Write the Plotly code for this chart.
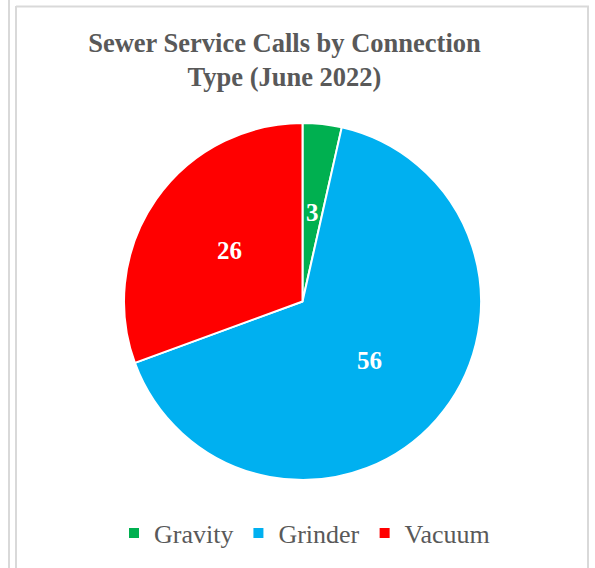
import math
import plotly.graph_objects as go

# Sewer service calls by connection type, June 2022
categories = ["Gravity", "Grinder", "Vacuum"]
calls = [3, 56, 26]
colors = ["#00B050", "#00B0F0", "#FF0000"]

W, H = 595, 568
CX, CY, R = 302.5, 301.5, 178.5  # pie centre and radius in pixels

fig = go.Figure(
    go.Pie(
        labels=categories,
        values=calls,
        sort=False,
        direction="clockwise",
        rotation=0,
        textinfo="none",
        hoverinfo="label+value",
        marker=dict(colors=colors, line=dict(color="white", width=2)),
        domain=dict(x=[(CX - R) / W, (CX + R) / W], y=[1 - (CY + R) / H, 1 - (CY - R) / H]),
    )
)

# value labels placed at half radius along each slice's mid-angle
total = sum(calls)
annotations = []
cum = 0
for v in calls:
    mid = (cum + v / 2) / total * 2 * math.pi
    cum += v
    px = CX + 0.5 * R * math.sin(mid)
    py = CY - 0.5 * R * math.cos(mid)
    annotations.append(
        dict(
            x=px / W, y=1 - py / H, xref="paper", yref="paper",
            text=f"<b>{v}</b>", showarrow=False,
            font=dict(family="Liberation Serif, Times New Roman, serif", size=25, color="white"),
            xanchor="center", yanchor="middle",
        )
    )

# chart frame lines
frame = "#D9D9D9"
shapes = [
    dict(type="line", xref="paper", yref="paper", x0=9 / W, x1=9 / W, y0=0, y1=1,
         line=dict(color=frame, width=2)),
    dict(type="line", xref="paper", yref="paper", x0=16 / W, x1=16 / W, y0=0, y1=1 - 6 / H,
         line=dict(color=frame, width=2)),
    dict(type="line", xref="paper", yref="paper", x0=16 / W, x1=589 / W, y0=1 - 6.5 / H, y1=1 - 6.5 / H,
         line=dict(color=frame, width=2)),
    dict(type="line", xref="paper", yref="paper", x0=588 / W, x1=588 / W, y0=0, y1=1 - 6 / H,
         line=dict(color=frame, width=2)),
]

fig.update_layout(
    width=W,
    height=H,
    margin=dict(l=0, r=0, t=0, b=0),
    paper_bgcolor="white",
    title=dict(
        text="<b>Sewer Service Calls by Connection<br>Type (June 2022)</b>",
        x=284.5 / W, xanchor="center",
        y=1 - 52 / H, yanchor="top", yref="container",
        font=dict(family="Liberation Serif, Times New Roman, serif", size=26.5, color="#595959"),
    ),
    legend=dict(
        orientation="h",
        x=304.5 / W, xanchor="center",
        y=1 - 533 / H, yanchor="middle",
        font=dict(family="Liberation Serif, Times New Roman, serif", size=26, color="#595959"),
        itemwidth=30,
    ),
    annotations=annotations,
    shapes=shapes,
)

fig.write_html("out.html")
